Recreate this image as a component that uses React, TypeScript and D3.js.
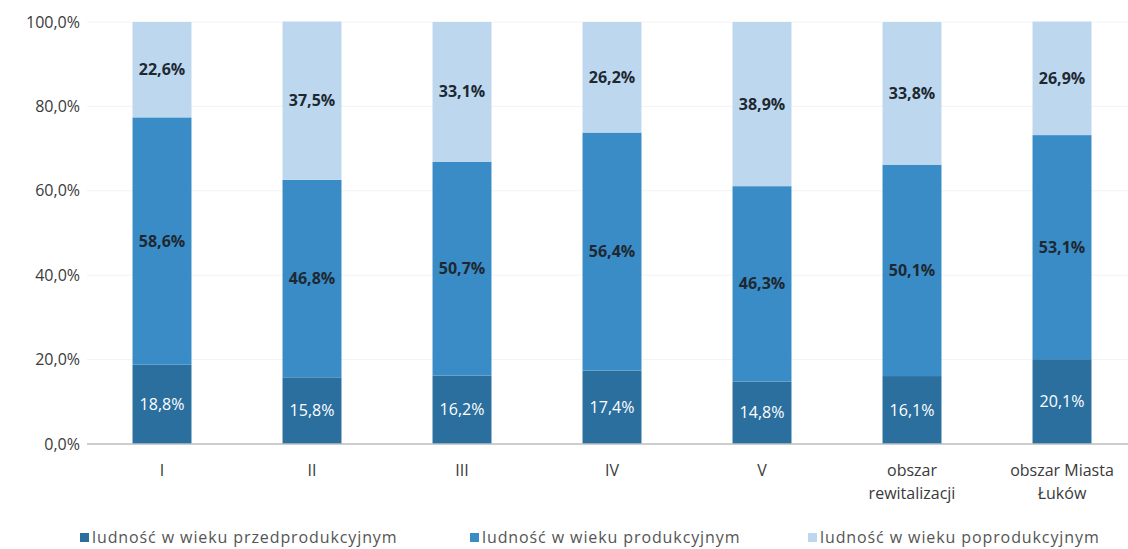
import React from "react";
import * as d3 from "d3";

const categories: string[][] = [
  ["I"],
  ["II"],
  ["III"],
  ["IV"],
  ["V"],
  ["obszar", "rewitalizacji"],
  ["obszar Miasta", "Łuków"],
];
const przedprodukcyjny = [18.8, 15.8, 16.2, 17.4, 14.8, 16.1, 20.1];
const produkcyjny = [58.6, 46.8, 50.7, 56.4, 46.3, 50.1, 53.1];
const poprodukcyjny = [22.6, 37.5, 33.1, 26.2, 38.9, 33.8, 26.9];
const seriesNames = [
  "ludność w wieku przedprodukcyjnym",
  "ludność w wieku produkcyjnym",
  "ludność w wieku poprodukcyjnym",
];
const yTicks = [0, 20, 40, 60, 80, 100];

const colors = ["#2b6f9f", "#3a8cc6", "#bdd8ee"];
const labelColors = ["#ffffff", "#1e2833", "#1e2833"];
const labelWeights = [400, 700, 700];

export default function App() {
  const W = 1128;
  const H = 549;
  const x = d3
    .scaleBand<number>()
    .domain(categories.map((_, i) => i))
    .range([87, 1137])
    .paddingInner(0.607)
    .paddingOuter(0.3035);
  const y = d3.scaleLinear().domain([0, 100]).range([444, 22]);
  const series = [przedprodukcyjny, produkcyjny, poprodukcyjny];
  const font = "'Open Sans', Lato, sans-serif";
  const fmt = (v: number) => v.toFixed(1).replace(".", ",") + "%";
  const legendX = [80, 470, 808];

  return (
    <svg
      width={W}
      height={H}
      style={{ position: "absolute", left: 0, top: 0, background: "#fff" }}
      fontFamily={font}
    >
      {yTicks.map((t) => (
        <g key={t}>
          {t > 0 && (
            <line x1={87} x2={1128} y1={y(t)} y2={y(t)} stroke="#f3f3f3" strokeWidth={1} />
          )}
          <text
            x={80}
            y={y(t)}
            dy="0.35em"
            textAnchor="end"
            fontSize={16}
            fill="#3a3a3a"
          >
            {t.toFixed(1).replace(".", ",") + "%"}
          </text>
        </g>
      ))}
      {categories.map((c, i) => {
        let acc = 0;
        return (
          <g key={i}>
            {series.map((s, k) => {
              const v = s[i];
              const y0 = y(acc);
              const y1 = y(acc + v);
              acc += v;
              return (
                <g key={k}>
                  <rect
                    x={x(i)!}
                    y={y1}
                    width={x.bandwidth()}
                    height={y0 - y1}
                    fill={colors[k]}
                  />
                  <text
                    x={x(i)! + x.bandwidth() / 2}
                    y={(y0 + y1) / 2}
                    dy="0.35em"
                    textAnchor="middle"
                    fontSize={16}
                    fontWeight={labelWeights[k]}
                    fill={labelColors[k]}
                  >
                    {fmt(v)}
                  </text>
                </g>
              );
            })}
            {c.map((line, j) => (
              <text
                key={j}
                x={x(i)! + x.bandwidth() / 2}
                y={470 + j * 23}
                dy="0.35em"
                textAnchor="middle"
                fontSize={16}
                fill="#3a3a3a"
              >
                {line}
              </text>
            ))}
          </g>
        );
      })}
      <line x1={87} x2={1128} y1={y(0)} y2={y(0)} stroke="#bdbdbd" strokeWidth={1.5} />
      {seriesNames.map((n, k) => (
        <g key={n}>
          <rect x={legendX[k]} y={533} width={9} height={9} fill={colors[k]} />
          <text x={legendX[k] + 12} y={537} dy="0.35em" fontSize={16} letterSpacing={0.9} fill="#555">
            {n}
          </text>
        </g>
      ))}
    </svg>
  );
}
